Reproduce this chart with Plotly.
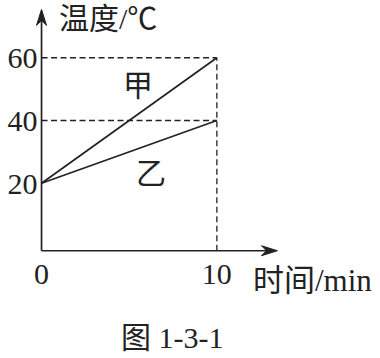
import plotly.graph_objects as go

# ---- data ----
time_min = [0, 10]
temp_jia = [20, 60]
temp_yi = [20, 40]
x_ticks = [0, 10]
y_ticks = [20, 40, 60]
series_names = ["甲", "乙"]
x_title = "时间/min"
y_title = "温度/℃"
caption = "图 1-3-1"

# ---- layout geometry (pixel scale of the reference) ----
W, H = 380, 358
X0PX, XPU = 41.3, 17.54     # px of x=0, px per minute
Y0PX, YPU = 246.1, 3.14     # px of y=0, px per degree
X_RANGE = [-1.0, 14.0]
Y_RANGE = [-3.5, 76.5]
ML = X0PX + X_RANGE[0] * XPU
MR = W - (X0PX + X_RANGE[1] * XPU)
MB = H - (Y0PX - Y_RANGE[0] * YPU)
MT = Y0PX - Y_RANGE[1] * YPU
pw = W - ML - MR
ph = H - MT - MB
sx = 1.0 / XPU
sy = 1.0 / YPU

def px2paper_x(px):
    return (px - ML) / pw

def px2paper_y(py):
    return (H - MB - py) / ph

AX_Y = -1.5          # x-axis sits slightly below 0 in the reference
AX_X = 0.0
x_tip = (277.3 - X0PX) * sx
y_tip = (Y0PX - 9.3) * sy

INK = "#222222"
SERIF = "Liberation Serif, Noto Sans CJK SC, serif"
CJK = "Noto Sans CJK SC, Liberation Serif, serif"
FS = 30

fig = go.Figure()
for vals, nm in ((temp_jia, series_names[0]), (temp_yi, series_names[1])):
    fig.add_trace(go.Scatter(x=time_min, y=vals, mode="lines",
                             line=dict(color=INK, width=1.7), name=nm,
                             showlegend=False, hoverinfo="skip"))

shapes = []
# axes
shapes.append(dict(type="line", xref="x", yref="y", x0=AX_X, y0=AX_Y, x1=x_tip - 6 * sx, y1=AX_Y,
                   line=dict(color=INK, width=1.7)))
shapes.append(dict(type="line", xref="x", yref="y", x0=AX_X, y0=AX_Y, x1=AX_X, y1=y_tip - 6 * sy,
                   line=dict(color=INK, width=1.7)))
# arrowheads
L, Wd, N = 16, 5, 11
shapes.append(dict(type="path", xref="x", yref="y",
                   path=(f"M{x_tip},{AX_Y} L{x_tip - L*sx},{AX_Y + Wd*sy} "
                         f"L{x_tip - N*sx},{AX_Y} L{x_tip - L*sx},{AX_Y - Wd*sy} Z"),
                   fillcolor=INK, line=dict(color=INK, width=1)))
shapes.append(dict(type="path", xref="x", yref="y",
                   path=(f"M{AX_X},{y_tip} L{AX_X - Wd*sx},{y_tip - L*sy} "
                         f"L{AX_X},{y_tip - N*sy} L{AX_X + Wd*sx},{y_tip - L*sy} Z"),
                   fillcolor=INK, line=dict(color=INK, width=1)))
# dashed guides
dash = "6px,3.5px"
for v in (temp_jia[-1], temp_yi[-1]):
    shapes.append(dict(type="line", xref="x", yref="y", x0=AX_X, y0=v, x1=time_min[-1], y1=v,
                       line=dict(color=INK, width=1.3, dash=dash)))
shapes.append(dict(type="line", xref="x", yref="y", x0=time_min[-1], y0=AX_Y,
                   x1=time_min[-1], y1=temp_jia[-1],
                   line=dict(color=INK, width=1.3, dash=dash)))

annotations = [
    dict(text=series_names[0], x=5.48, y=51.9, xref="x", yref="y", showarrow=False,
         font=dict(family=CJK, size=FS, color=INK)),
    dict(text=series_names[1], x=6.25, y=24.0, xref="x", yref="y", showarrow=False,
         font=dict(family=CJK, size=FS, color=INK)),
    dict(text=y_title, x=px2paper_x(57), y=px2paper_y(18), xref="paper", yref="paper",
         xanchor="left", yanchor="middle", showarrow=False,
         font=dict(family=SERIF, size=FS, color=INK)),
    dict(text=x_title, x=px2paper_x(251), y=px2paper_y(281), xref="paper", yref="paper",
         xanchor="left", yanchor="middle", showarrow=False,
         font=dict(family=SERIF, size=31, color=INK)),
    dict(text=caption, x=px2paper_x(172), y=px2paper_y(338), xref="paper", yref="paper",
         xanchor="center", yanchor="middle", showarrow=False, borderpad=0,
         font=dict(family=SERIF, size=FS, color=INK)),
]

fig.update_layout(
    width=W, height=H,
    margin=dict(l=ML, r=MR, t=MT, b=MB, pad=0),
    paper_bgcolor="white", plot_bgcolor="white",
    showlegend=False,
    shapes=shapes,
    annotations=annotations,
    xaxis=dict(range=X_RANGE, showgrid=False, zeroline=False, showline=False,
               anchor="free", position=(AX_Y - Y_RANGE[0]) / (Y_RANGE[1] - Y_RANGE[0]),
               tickvals=x_ticks, ticktext=[str(t) for t in x_ticks], ticks="",
               tickfont=dict(family=SERIF, size=FS, color=INK), ticklabelstandoff=2,
               fixedrange=True),
    yaxis=dict(range=Y_RANGE, showgrid=False, zeroline=False, showline=False,
               anchor="free", position=(AX_X - X_RANGE[0]) / (X_RANGE[1] - X_RANGE[0]),
               tickvals=y_ticks, ticktext=[str(t) for t in y_ticks], ticks="",
               tickfont=dict(family=SERIF, size=FS, color=INK), ticklabelstandoff=4,
               fixedrange=True),
)

fig.write_html("out.html", config=dict(displayModeBar=False))
